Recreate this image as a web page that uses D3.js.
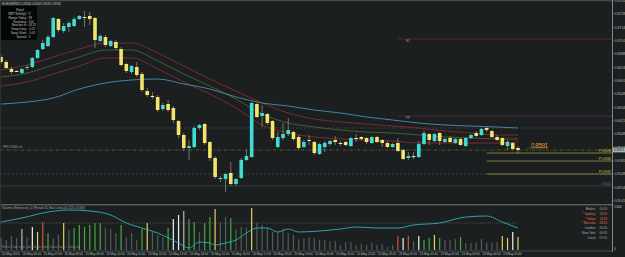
<!DOCTYPE html>
<html><head><meta charset="utf-8">
<script src="https://cdn.jsdelivr.net/npm/d3@7"></script>
<style>
html,body{margin:0;padding:0;background:#1b1f20;overflow:hidden;}
svg{display:block;}
text{font-family:"Liberation Sans",Arial,sans-serif;}
</style></head><body>
<svg id="chart" width="625" height="257"></svg>
<script>
// ---------- DATA ----------
const symbolTitle = "EURGBP,M15  0.8594 0.8594 0.8591 0.8591";
const opens = [0.8684,0.8679,0.8672,0.8670,0.8668,0.8673,0.8674,0.8683,0.8692,0.8695,
0.8704,0.8722,0.8710,0.8714,0.8715,0.8722,0.8724,0.8725,0.8723,0.8700,
0.8704,0.8695,0.8699,0.8692,0.8677,0.8669,0.8674,0.8667,0.8650,0.8645,
0.8644,0.8632,0.8637,0.8633,0.8620,0.8606,0.8593,0.8594,0.8613,0.8617,
0.8599,0.8583,0.8562,0.8562,0.8568,0.8557,0.8563,0.8581,0.8584,0.8637,
0.8625,0.8627,0.8620,0.8594,0.8603,0.8607,0.8609,0.8604,0.8594,0.8601,
0.8599,0.8587,0.8594,0.8597,0.8601,0.8598,0.8599,0.8595,0.8603,0.8604,
0.8603,0.8598,0.8604,0.8601,0.8598,0.8594,0.8598,0.8591,0.8583,0.8585,
0.8584,0.8597,0.8607,0.8600,0.8608,0.8599,0.8603,0.8598,0.8602,0.8595,
0.8603,0.8608,0.8606,0.8613,0.8610,0.8604,0.8603,0.8595,0.8598,0.8593];
const highs = [0.8686,0.8681,0.8674,0.8671,0.8673,0.8676,0.8684,0.8692,0.8701,0.8706,
0.8724,0.8723,0.8718,0.8720,0.8724,0.8726,0.8730,0.8729,0.8724,0.8707,
0.8706,0.8701,0.8701,0.8694,0.8678,0.8676,0.8679,0.8669,0.8653,0.8649,
0.8646,0.8638,0.8641,0.8635,0.8621,0.8608,0.8601,0.8615,0.8617,0.8618,
0.8600,0.8585,0.8565,0.8568,0.8579,0.8563,0.8583,0.8591,0.8639,0.8638,
0.8636,0.8628,0.8621,0.8609,0.8618,0.8623,0.8610,0.8606,0.8601,0.8606,
0.8600,0.8598,0.8600,0.8601,0.8605,0.8600,0.8600,0.8604,0.8607,0.8605,
0.8604,0.8605,0.8605,0.8602,0.8600,0.8598,0.8603,0.8592,0.8589,0.8589,
0.8600,0.8610,0.8608,0.8608,0.8609,0.8603,0.8605,0.8603,0.8603,0.8604,
0.8607,0.8610,0.8613,0.8615,0.8611,0.8606,0.8604,0.8601,0.8599,0.8595];
const lows = [0.8677,0.8672,0.8667,0.8669,0.8667,0.8671,0.8673,0.8682,0.8691,0.8694,
0.8703,0.8709,0.8708,0.8709,0.8714,0.8721,0.8714,0.8716,0.8693,0.8699,
0.8694,0.8694,0.8691,0.8675,0.8668,0.8667,0.8664,0.8649,0.8644,0.8642,
0.8629,0.8630,0.8629,0.8618,0.8603,0.8590,0.8581,0.8593,0.8611,0.8596,
0.8580,0.8562,0.8559,0.8549,0.8555,0.8555,0.8562,0.8580,0.8583,0.8623,
0.8614,0.8616,0.8601,0.8593,0.8601,0.8605,0.8600,0.8591,0.8593,0.8596,
0.8586,0.8586,0.8589,0.8595,0.8596,0.8595,0.8595,0.8594,0.8599,0.8600,
0.8597,0.8597,0.8598,0.8594,0.8593,0.8593,0.8589,0.8581,0.8581,0.8582,
0.8583,0.8596,0.8596,0.8599,0.8596,0.8598,0.8598,0.8597,0.8595,0.8594,
0.8602,0.8604,0.8605,0.8609,0.8603,0.8600,0.8595,0.8591,0.8591,0.8587];
const closes = [0.8679,0.8673,0.8669,0.8670,0.8672,0.8674,0.8683,0.8691,0.8698,0.8704,
0.8723,0.8711,0.8715,0.8718,0.8722,0.8725,0.8724,0.8722,0.8701,0.8705,
0.8696,0.8700,0.8693,0.8676,0.8670,0.8675,0.8666,0.8651,0.8646,0.8645,
0.8631,0.8636,0.8631,0.8621,0.8606,0.8593,0.8595,0.8613,0.8616,0.8598,
0.8583,0.8564,0.8563,0.8567,0.8557,0.8562,0.8581,0.8585,0.8638,0.8624,
0.8628,0.8618,0.8603,0.8604,0.8607,0.8611,0.8602,0.8593,0.8599,0.8601,
0.8588,0.8597,0.8598,0.8600,0.8599,0.8598,0.8596,0.8603,0.8603,0.8602,
0.8599,0.8604,0.8599,0.8598,0.8594,0.8597,0.8590,0.8582,0.8585,0.8585,
0.8597,0.8608,0.8601,0.8607,0.8600,0.8602,0.8599,0.8602,0.8596,0.8603,
0.8606,0.8605,0.8612,0.8611,0.8604,0.8601,0.8596,0.8599,0.8592,0.8591];

// moving averages, read at every 5th bar
const maIdx   = [0,5,10,15,20,25,30,35,40,45,50,55,60,65,70,75,80,85,90,95,99];
const maSlow  = [0.8637,0.8639,0.8643,0.8652,0.8658,0.8661,0.8662,0.8657,0.8652,0.8644,0.8638,0.8635,0.8631,0.8628,0.8624,0.8621,0.8618,0.8616,0.8615,0.8614,0.8613];
const maUpper = [0.8671,0.8676,0.8684,0.8692,0.8698,0.8698,0.8688,0.8675,0.8662,0.8650,0.8638,0.8628,0.8622,0.8619,0.8617,0.8615,0.8613,0.8610,0.8608,0.8606,0.8606];
const maMid   = [0.8664,0.8668,0.8676,0.8684,0.8691,0.8691,0.8680,0.8667,0.8655,0.8642,0.8627,0.8618,0.8614,0.8611,0.8609,0.8608,0.8606,0.8604,0.8603,0.8602,0.8602];
const maLower = [0.8655,0.8659,0.8667,0.8675,0.8683,0.8683,0.8672,0.8659,0.8647,0.8633,0.8616,0.8608,0.8604,0.8602,0.8601,0.8600,0.8598,0.8598,0.8598,0.8598,0.8599];

// price axis
const priceTicks = [0.8741,0.8728,0.8714,0.8701,0.8688,0.8674,0.8661,0.8648,0.8634,0.8621,0.8608,0.8594,0.8581,0.8568,0.8554,0.8541];
const lastPrice = 0.8591;
const dashedLevels = [0.8613, 0.8567];
const floorLevel = 0.8555;
const pivotR1 = 0.8702, pivotPP = 0.8625, pivotFrom = 76;
const pivotNames = ["R1", "PP"];
const targetLevels = [0.8588, 0.8580, 0.8567], targetFrom = 93;
const targetNames = ["P 0.8588", "P 0.8580", "P 0.8567"];

// time axis
const timeIdx = d3.range(0, 100, 4);
const timeLabels = ["20 May 2016","20 May 06:00","20 May 07:00","20 May 08:00","20 May 09:00","20 May 10:00","20 May 11:00","20 May 12:00","20 May 13:00","20 May 14:00","20 May 15:00","20 May 16:00","20 May 17:00","20 May 18:00","20 May 19:00","20 May 20:00","20 May 21:00","20 May 22:00","20 May 23:00","23 May 00:00","23 May 01:00","23 May 02:00","23 May 03:00","23 May 04:00","23 May 05:00"];

// volumes and their class (N normal, L light, W climax down, R climax up, Y churn, G low-vol churn)
const volumes = [360,300,420,360,630,390,690,540,840,510,360,450,810,600,660,750,690,750,810,810,
660,630,510,750,390,510,300,630,810,540,450,390,660,930,1050,1170,930,840,540,810,
990,1230,840,990,960,630,690,660,1260,810,750,660,540,540,630,510,450,330,360,390,
360,300,300,270,270,150,240,240,150,180,150,210,150,180,90,150,420,360,420,270,
420,300,360,450,360,300,300,330,390,210,210,240,330,210,210,240,420,360,540,390];
const volClass = "NNNNLNWYRGNNYNGGGGGGNNNGNNNGYNNNGWWLGGNGGYNNGNNNYNNNNNNNNNNNNNNNNNNNNNNNNNNNRWRNWGGYGNNNGNNNNNNNYYWY".split("");
const volMaIdx = [0,4,9,13,17,21,24,27,30,34,36,38,40,41,43,45,47,49,51,53,55,57,61,65,68,72,76,79,84,89,93,96,99];
const volMa    = [840,960,1140,1200,1170,1050,810,660,510,210,60,240,210,150,210,300,510,660,660,540,630,540,570,630,690,660,660,750,810,990,1020,840,660];
const volLevel = 810;
const volMax = 1350;
const volTitle = "Volumes Enhanced_v2 (Period 16, Max Level=0)   1221  v3  [68]";
const volNote = "Neutral Trade setup: Low Volume Churn, Climax Down + Climax Up";

const infoLabels = ["GMT Settings:","Range Today:","Yesterday:","Next bar in:","Swap Long:","Swap Short:","Spread:"];
const infoValues = ["0","38","104","04:23","-0.07","-0.01","3"];
const clockLabels = ["Broker:","* Sydney:","* Tokyo:","* Moscow:","London:","New York:","Local:"];
const clockTimes = ["05:55","14:55","13:55","08:55","05:55","00:55","07:55"];

// ---------- DRAW ----------
const svg = d3.select('#chart');
svg.append('rect').attr('width',625).attr('height',257).attr('fill','#1b1f20');

const x = d3.scaleLinear().domain([0, 99]).range([1, 518]);
const y = d3.scaleLinear().domain([0.8741, 0.8538]).range([0, 203]);
const yv = d3.scaleLinear().domain([0, volMax]).range([250, 205]);

const defs = svg.append('defs');
defs.append('clipPath').attr('id','mainClip').append('rect').attr('x',0).attr('y',1).attr('width',612).attr('height',202.5);
defs.append('clipPath').attr('id','subClip').append('rect').attr('x',0).attr('y',205.5).attr('width',612).attr('height',45);

const main = svg.append('g').attr('clip-path','url(#mainClip)');
const X0 = 0, X1 = 612;

// guide levels
main.selectAll('.dl').data(dashedLevels).join('line')
  .attr('x1',X0).attr('x2',X1).attr('y1',d=>y(d)).attr('y2',d=>y(d))
  .attr('stroke','#4b4863').attr('stroke-width',0.8).attr('stroke-dasharray','2,2');
main.append('line').attr('x1',X0).attr('x2',X1).attr('y1',y(lastPrice)).attr('y2',y(lastPrice))
  .attr('stroke','#66652c').attr('stroke-width',0.8).attr('stroke-dasharray','3,1.5,1,1.5');
main.append('line').attr('x1',X0).attr('x2',X1).attr('y1',y(floorLevel)).attr('y2',y(floorLevel))
  .attr('stroke','#3a4444').attr('stroke-width',0.8);

// pivots
main.append('line').attr('x1',x(pivotFrom)).attr('x2',X1).attr('y1',y(pivotR1)).attr('y2',y(pivotR1))
  .attr('stroke','#5e2726').attr('stroke-width',1.2);
main.append('line').attr('x1',x(pivotFrom)).attr('x2',X1).attr('y1',y(pivotPP)).attr('y2',y(pivotPP))
  .attr('stroke','#4c2a4c').attr('stroke-width',1.2);
main.selectAll('.pvt').data([pivotR1,pivotPP]).join('text')
  .attr('x',x(pivotFrom)+8).attr('y',d=>y(d)+3).attr('font-size',3).attr('fill','#9a9a9a')
  .text((d,i)=>pivotNames[i]);

// target levels
main.selectAll('.tl').data(targetLevels).join('line')
  .attr('x1',x(targetFrom)).attr('x2',X1).attr('y1',d=>y(d)).attr('y2',d=>y(d))
  .attr('stroke','#8c8a3c').attr('stroke-width',0.9);
main.selectAll('.tt').data(targetLevels).join('text')
  .attr('x',611).attr('y',d=>y(d)-1).attr('text-anchor','end').attr('font-size',3)
  .attr('fill','#d8c44a').text((d,i)=>targetNames[i]);

main.append('text').attr('x',3).attr('y',y(lastPrice)-2).attr('font-size',3).attr('fill','#9a9a9a').text('PRV D/W4 vol');
main.append('text').attr('x',611).attr('y',y(floorLevel)-0.8).attr('text-anchor','end').attr('font-size',3).attr('fill','#6f7777').text(d3.format('.4f')(floorLevel));

// moving averages
const maLine = d3.line().x((d,i)=>x(maIdx[i])).y(d=>y(d)).curve(d3.curveMonotoneX);
[[maUpper,'#7e2b2b'],[maMid,'#4f5a33'],[maLower,'#7e2b2b'],[maSlow,'#4785a6']].forEach(([arr,col])=>{
  main.append('path').attr('d',maLine(arr)).attr('fill','none').attr('stroke',col).attr('stroke-width',1);
});

// candles
const bull = '#3fdcd6', bear = '#f3e46c', dojiCol = '#e6e6e6';
const idx = d3.range(opens.length);
main.selectAll('.wick').data(idx).join('line')
  .attr('x1',i=>x(i)).attr('x2',i=>x(i)).attr('y1',i=>y(highs[i])).attr('y2',i=>y(lows[i]))
  .attr('stroke','#7f7f6a').attr('stroke-width',0.9);
main.selectAll('.body').data(idx).join('rect')
  .attr('x',i=>x(i)-1.8).attr('width',3.6)
  .attr('y',i=>y(Math.max(opens[i],closes[i])))
  .attr('height',i=>Math.max(1, Math.abs(y(opens[i])-y(closes[i]))))
  .attr('fill',i=>closes[i]>opens[i]?bull:(closes[i]<opens[i]?bear:dojiCol));

// last price big label
main.append('line').attr('x1',x(99)+9).attr('x2',x(99)+30).attr('y1',y(lastPrice)-2).attr('y2',y(lastPrice)-2)
  .attr('stroke','#4a5555').attr('stroke-width',0.8);
main.append('text').attr('x',x(99)+13).attr('y',y(lastPrice)-2.5).attr('font-size',6.3)
  .attr('fill','#e39c34').attr('textLength',17).text(d3.format('.4f')(lastPrice));

// title + info panel
svg.append('text').attr('x',2).attr('y',4.6).attr('font-size',3).attr('fill','#c8c8c8').text(symbolTitle);
svg.append('rect').attr('x',0.5).attr('y',6).attr('width',36.5).attr('height',34).attr('fill','#050606');
svg.append('text').attr('x',20).attr('y',11).attr('text-anchor','middle').attr('font-size',3).attr('fill','#c8c8c8').text('Panel');
svg.append('line').attr('x1',8).attr('x2',33).attr('y1',12.2).attr('y2',12.2).attr('stroke','#555').attr('stroke-width',0.4);
svg.selectAll('.il').data(infoLabels).join('text')
  .attr('x',27).attr('y',(d,i)=>15.3+i*3.7).attr('text-anchor','end').attr('font-size',3).attr('fill','#c0c0c0').text(d=>d);
svg.selectAll('.iv').data(infoValues).join('text')
  .attr('x',28.5).attr('y',(d,i)=>15.3+i*3.7).attr('font-size',3).attr('fill','#c0c0c0').text(d=>d);

// frame lines
svg.append('line').attr('x1',0).attr('x2',612).attr('y1',0.6).attr('y2',0.6).attr('stroke','#3d4a4a').attr('stroke-width',1.2);
svg.append('line').attr('x1',0).attr('x2',612).attr('y1',204.8).attr('y2',204.8).attr('stroke','#51605e').attr('stroke-width',1.4);
svg.append('line').attr('x1',0).attr('x2',612).attr('y1',251).attr('y2',251).attr('stroke','#4a5757').attr('stroke-width',0.8);
svg.append('line').attr('x1',0.5).attr('x2',0.5).attr('y1',0).attr('y2',251).attr('stroke','#2f3838').attr('stroke-width',0.8);

// price axis
const pAxis = svg.append('g').attr('transform','translate(612.5,0)')
  .call(d3.axisRight(y).tickValues(priceTicks).tickSize(1.5).tickPadding(0.8).tickFormat(d3.format('.4f')));
pAxis.select('.domain').attr('stroke','#8b9595').attr('stroke-width',0.9).attr('d','M0,0V252');
pAxis.selectAll('.tick line').attr('stroke','#8b9595').attr('stroke-width',0.5);
pAxis.selectAll('.tick text').attr('font-size',3.4).attr('fill','#b5bdbd').attr('font-family','Liberation Sans, Arial, sans-serif');
// current price tag
svg.append('rect').attr('x',613).attr('y',y(lastPrice)-2.4).attr('width',12).attr('height',4.8).attr('fill','#a9b6b6');
svg.append('text').attr('x',614).attr('y',y(lastPrice)+1.2).attr('font-size',3.4).attr('fill','#111').text(d3.format('.4f')(lastPrice));
svg.append('text').attr('x',614).attr('y',y(pivotR1)+1.2).attr('font-size',3.4).attr('fill','#b06060').text('');

// sub window axis labels
svg.append('text').attr('x',614).attr('y',yv(volMax)+2.5).attr('font-size',3.4).attr('fill','#b5bdbd').text('1346');
svg.append('text').attr('x',614).attr('y',yv(0)).attr('font-size',3.4).attr('fill','#b5bdbd').text('0');

// time axis
const tAxis = svg.append('g').attr('transform','translate(0,251)')
  .call(d3.axisBottom(x).tickValues(timeIdx).tickSize(1.5).tickPadding(0.6).tickFormat((d,i)=>timeLabels[i]));
tAxis.select('.domain').remove();
tAxis.selectAll('.tick line').attr('stroke','#8b9595').attr('stroke-width',0.5);
tAxis.selectAll('.tick text').attr('font-size',3).attr('fill','#b5bdbd').attr('text-anchor','start').attr('dx',0.5)
  .attr('font-family','Liberation Sans, Arial, sans-serif');

// volume subwindow
const sub = svg.append('g').attr('clip-path','url(#subClip)');
sub.append('line').attr('x1',X0).attr('x2',x(99)).attr('y1',yv(volLevel)).attr('y2',yv(volLevel))
  .attr('stroke','#7a7f7f').attr('stroke-width',0.6).attr('stroke-dasharray','0.8,1.2');
const volColors = {N:'#545a5a', L:'#b8b8b8', W:'#f2f2f2', R:'#d2553c', Y:'#e4cf5e', G:'#45a83e'};
sub.selectAll('.vb').data(volumes).join('line')
  .attr('x1',(d,i)=>x(i)).attr('x2',(d,i)=>x(i)).attr('y1',yv(0)).attr('y2',d=>yv(d))
  .attr('stroke',(d,i)=>volColors[volClass[i]]).attr('stroke-width',1.2);
const vLine = d3.line().x((d,i)=>x(volMaIdx[i])).y(d=>yv(d)).curve(d3.curveMonotoneX);
sub.append('path').attr('d',vLine(volMa)).attr('fill','none').attr('stroke','#2bb2ba').attr('stroke-width',0.9);
svg.append('text').attr('x',2).attr('y',209).attr('font-size',3).attr('fill','#a8a8a8').text(volTitle);
svg.append('text').attr('x',2).attr('y',248).attr('font-size',2.6).attr('fill','#8a8a8a').text(volNote);

// clock panel
svg.selectAll('.cl').data(clockLabels).join('text')
  .attr('x',596).attr('y',(d,i)=>210+i*4.75).attr('text-anchor','end').attr('font-size',3.1)
  .attr('fill',d=>d.startsWith('*')?'#e2734e':'#b0b0b0').text(d=>d);
svg.selectAll('.ct').data(clockTimes).join('text')
  .attr('x',599.5).attr('y',(d,i)=>210+i*4.75).attr('font-size',3.1)
  .attr('fill',(d,i)=>clockLabels[i].startsWith('*')?'#e2734e':'#b0b0b0').text(d=>d);
</script>
</body></html>
